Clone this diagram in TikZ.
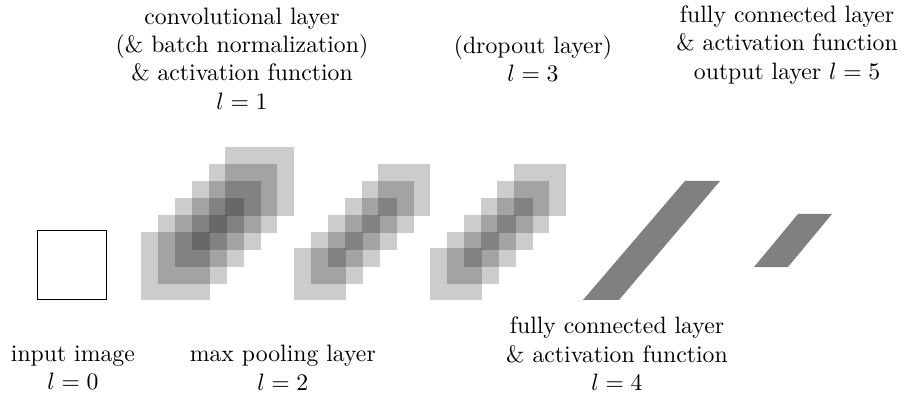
\documentclass[tikz,border=0pt]{standalone}
\usepackage{amsmath}
\usetikzlibrary{positioning}
\tikzstyle{fmap}=[fill=black,fill opacity=.2]
\tikzstyle{dense}=[fill=black!50]
\tikzstyle{caption}=[align=center]

\begin{document}
\begin{tikzpicture}
	\useasboundingbox (0,0) rectangle (13.437,6);
	% input image
	\node[draw,minimum size=1.02cm,inner sep=0] (input) at (1.07,2.07) {};
	% convolutional layer
	\foreach \i in {0,...,5}
		\fill[fmap] (2.09+0.25*\i,1.55+0.25*\i) rectangle ++(1.02,1.02);
	% max pooling layer
	\foreach \i in {0,...,5}
		\fill[fmap] (4.356+0.25*\i,1.55+0.25*\i) rectangle ++(0.77,0.77);
	% dropout layer
	\foreach \i in {0,...,5}
		\fill[fmap] (6.37+0.25*\i,1.55+0.25*\i) rectangle ++(0.77,0.77);
	% fully connected layers
	\fill[dense] (8.637,1.556) -- (9.170,1.556) -- (10.667,3.319) -- (10.148,3.319) -- cycle;
	\fill[dense] (11.170,2.044) -- (11.674,2.044) -- (12.326,2.830) -- (11.822,2.830) -- cycle;

	\node[caption] (inputlbl)	at (1.08,0.55)	{input image\\$l = 0$};
	\node[caption] (convlbl)	at (3.585,5.133)	{convolutional layer\\(\& batch normalization)\\\& activation function\\$l = 1$};
	\node[caption] (poollbl)	at (4.19,0.55)	{max pooling layer\\$l = 2$};
	\node[caption] (droplbl)	at (7.896,5.133)	{(dropout layer)\\$l = 3$};
	\node[caption] (fclbl)		at (9.14,0.756)	{fully connected layer\\\& activation function\\$l = 4$};
	\node[caption] (outlbl)		at (11.66,5.333)	{fully connected layer\\\& activation function\\output layer $l = 5$};
\end{tikzpicture}
\end{document}
